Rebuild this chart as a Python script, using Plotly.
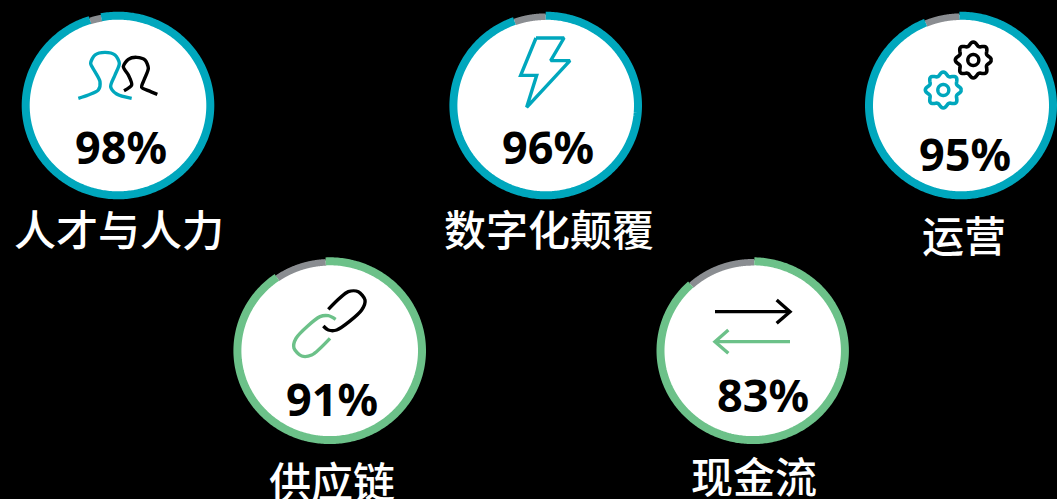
import numpy as np
import plotly.graph_objects as go

W, H = 1057, 499

# --- data ---
categories = ["人才与人力", "数字化颠覆", "运营", "供应链", "现金流"]
percent_labels = ["98%", "96%", "95%", "91%", "83%"]
gray_share = [2, 5.5, 6, 9, 12]          # grey arc length as drawn, in percent of the ring
ring_rotation = [-10.5, 0, -1, -2.5, 1]  # where the coloured arc begins, degrees
ring_colors = ["#00A7BD", "#00A7BD", "#00A7BD", "#6CC189", "#6CC189"]

# --- layout in pixels ---
cx = [118, 545.7, 961, 329.7, 752.7]
cy = [105.5, 105.5, 105.5, 350.7, 350.7]
rx = [96.3, 96.3, 96, 96.3, 96.2]
ry = [93.8, 93.8, 93.8, 93.4, 93.4]
pct_x = [121, 548, 964.5, 332, 763]
pct_y = [146, 146, 153, 398, 394]
label_x = [119, 549, 964, 332, 754]
label_y = [227, 227, 233, 479, 474]

TEAL, GREEN, BLACK = "#00A7BD", "#6CC189", "#000000"
GRAY = "#8A8D91"
RING_W = 8

fig = go.Figure()


def arc(i, start_deg, sweep_deg, inset, color, width):
    th = np.radians(np.linspace(start_deg, start_deg + sweep_deg, 361))
    fig.add_trace(go.Scatter(
        x=cx[i] + (rx[i] - inset) * np.sin(th), y=cy[i] - (ry[i] - inset) * np.cos(th),
        mode="lines", line=dict(color=color, width=width, simplify=False),
        hoverinfo="skip", showlegend=False))


def icon(xs, ys, color, spline=True, width=3.4, ox=0, oy=0, scale=1 / 3):
    fig.add_trace(go.Scatter(
        x=[ox + v * scale for v in xs], y=[oy + v * scale for v in ys], mode="lines",
        line=dict(color=color, width=width, shape="spline" if spline else "linear", smoothing=0.8),
        hoverinfo="skip", showlegend=False))


shapes = []
for i in range(5):
    shapes.append(dict(type="circle", xref="x", yref="y", layer="below",
                       x0=cx[i] - rx[i] + 3, x1=cx[i] + rx[i] - 3,
                       y0=cy[i] - ry[i] + 3, y1=cy[i] + ry[i] - 3,
                       fillcolor="#FFFFFF", line=dict(width=0)))
    g = gray_share[i] * 3.6
    arc(i, ring_rotation[i], -g, RING_W / 2 + 1, GRAY, RING_W - 1.4)
    arc(i, ring_rotation[i], 360 - g, RING_W / 2, ring_colors[i], RING_W)

# icon 1: people
icon([235, 265, 295, 300, 285, 272, 285, 315, 345, 358, 345, 332, 350, 395],
     [295, 285, 270, 245, 215, 190, 165, 157, 165, 190, 225, 260, 282, 295], TEAL)
icon([372, 395, 385, 370, 385, 410, 435, 445, 432, 425, 445, 472],
     [272, 255, 225, 200, 178, 172, 180, 205, 240, 262, 272, 283], BLACK)

# icon 2: lightning bolt
icon([318, 402, 362, 420, 290, 320, 272, 318], [114, 114, 182, 182, 322, 226, 226, 114], TEAL, spline=False, ox=430)

# icon 3: gears
t = np.linspace(0, 2 * np.pi, 121)
for gx, gy, c in [(973.3, 60, BLACK), (943.3, 90, TEAL)]:
    rr = 16.2 * (1 + 0.11 * np.cos(8 * t))
    fig.add_trace(go.Scatter(x=gx + rr * np.cos(t), y=gy + rr * np.sin(t), mode="lines",
                             line=dict(color=c, width=3.6, simplify=False), hoverinfo="skip", showlegend=False))
    fig.add_trace(go.Scatter(x=gx + 5.5 * np.cos(t), y=gy + 5.5 * np.sin(t), mode="lines",
                             line=dict(color=c, width=3.4, simplify=False), hoverinfo="skip", showlegend=False))

# icon 4: chain
icon([325, 385, 415, 435, 425, 350, 325, 310], [178, 125, 125, 150, 180, 240, 240, 228], BLACK, ox=220, oy=250)
icon([347, 325, 300, 228, 222, 245, 275, 330], [208, 197, 200, 265, 295, 318, 315, 265], GREEN, ox=220, oy=250)

# icon 5: arrows
icon([225, 450], [185, 185], BLACK, spline=False, ox=640, oy=250)
icon([410, 450, 410], [150, 185, 220], BLACK, spline=False, ox=640, oy=250)
icon([450, 225], [275, 275], GREEN, spline=False, ox=640, oy=250)
icon([265, 225, 265], [240, 275, 310], GREEN, spline=False, ox=640, oy=250)

annotations = []
for i in range(5):
    annotations.append(dict(x=pct_x[i], y=pct_y[i], xref="x", yref="y", text=f"<b>{percent_labels[i]}</b>",
                            showarrow=False, xanchor="center", yanchor="middle",
                            font=dict(family="Noto Sans, Open Sans", size=45, color="#000000")))
    annotations.append(dict(x=label_x[i], y=label_y[i], xref="x", yref="y", text=categories[i],
                            showarrow=False, xanchor="center", yanchor="middle",
                            font=dict(family="Noto Sans CJK SC", size=42, weight=500, color="#FFFFFF")))

fig.update_layout(
    width=W, height=H, margin=dict(l=0, r=0, t=0, b=0),
    paper_bgcolor="#000000", plot_bgcolor="#000000",
    xaxis=dict(range=[0, W], visible=False, fixedrange=True),
    yaxis=dict(range=[H, 0], visible=False, fixedrange=True),
    shapes=shapes, annotations=annotations, showlegend=False,
)

fig.write_html("out.html", config={"displayModeBar": False},
               post_script="document.body.style.margin='0';document.body.style.background='#000';document.body.style.overflow='hidden';")
